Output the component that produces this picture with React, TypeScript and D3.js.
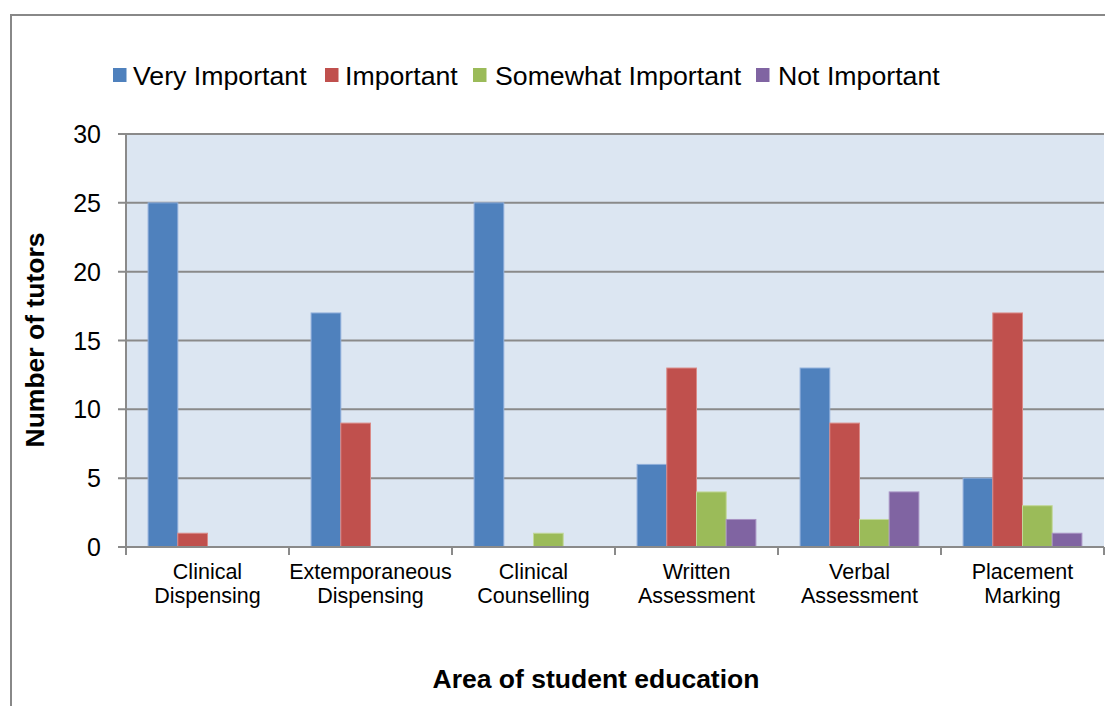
import React from "react";
import * as d3 from "d3";

const categories = [
  ["Clinical", "Dispensing"],
  ["Extemporaneous", "Dispensing"],
  ["Clinical", "Counselling"],
  ["Written", "Assessment"],
  ["Verbal", "Assessment"],
  ["Placement", "Marking"],
];
const seriesNames = ["Very Important", "Important", "Somewhat Important", "Not Important"];
const veryImportant = [25, 17, 25, 6, 13, 5];
const important = [1, 9, 0, 13, 9, 17];
const somewhatImportant = [0, 0, 1, 4, 2, 3];
const notImportant = [0, 0, 0, 2, 4, 1];
const yTicks = [0, 5, 10, 15, 20, 25, 30];

const colors = ["#4F81BD", "#C0504D", "#9BBB59", "#8064A2"];
const strokes = ["#8FAEDA", "#DA8A88", "#C2D89A", "#A893C4"];

export default function App() {
  const W = 1105, H = 706;
  const left = 126, right = 1104, top = 134, bottom = 547;
  const series = [veryImportant, important, somewhatImportant, notImportant];
  const catIdx = categories.map((_, i) => String(i));
  const x = d3.scaleBand<string>().domain(catIdx).range([left, right]).paddingInner(0).paddingOuter(0);
  const bw = x.bandwidth();
  const barW = 29.7;
  const groupW = barW * 4;
  const y = d3.scaleLinear().domain([0, 30]).range([bottom, top]);
  const font = "'Liberation Sans', Arial, sans-serif";

  const legendX = [{ sq: 113, tx: 133 }, { sq: 325, tx: 345 }, { sq: 473, tx: 495 }, { sq: 756, tx: 778 }];

  return (
    <svg width={W} height={H} style={{ position: "absolute", left: 0, top: 0, background: "#fff" }} fontFamily={font}>
      {/* outer border */}
      <line x1={11} y1={15} x2={W} y2={15} stroke="#888" strokeWidth={2} />
      <line x1={11} y1={14} x2={11} y2={H} stroke="#888" strokeWidth={2} />

      {/* plot background */}
      <rect x={left} y={top} width={right - left} height={bottom - top} fill="#DCE6F2" />

      {/* gridlines */}
      {yTicks.map((t) => (
        <line key={"g" + t} x1={left - 8} x2={right} y1={y(t)} y2={y(t)} stroke="#8A8A8A" strokeWidth={2} />
      ))}
      {/* y tick labels */}
      {yTicks.map((t) => (
        <text key={"yt" + t} x={101} y={y(t)} dy="0.36em" textAnchor="end" fontSize={25} fill="#000">
          {t}
        </text>
      ))}

      {/* bars */}
      {categories.map((_, ci) => {
        const x0 = (x(String(ci)) as number) + (bw - groupW) / 2;
        return series.map((s, si) => {
          const v = s[ci];
          if (v <= 0) return null;
          return (
            <rect
              key={`b${ci}-${si}`}
              x={x0 + si * barW}
              y={y(v)}
              width={barW}
              height={y(0) - y(v)}
              fill={colors[si]}
              stroke={strokes[si]}
              strokeWidth={1}
            />
          );
        });
      })}

      {/* axes lines */}
      <line x1={left} x2={left} y1={top} y2={bottom} stroke="#8A8A8A" strokeWidth={2} />
      <line x1={left - 8} x2={right} y1={bottom} y2={bottom} stroke="#8A8A8A" strokeWidth={2} />
      {d3.range(categories.length + 1).map((i) => (
        <line key={"xt" + i} x1={left + i * bw} x2={left + i * bw} y1={bottom} y2={bottom + 8} stroke="#8A8A8A" strokeWidth={2} />
      ))}

      {/* x labels */}
      {categories.map((lines, ci) => {
        const cx = (x(String(ci)) as number) + bw / 2;
        return (
          <text key={"xl" + ci} x={cx} y={579} textAnchor="middle" fontSize={21.5} fill="#000">
            {lines.map((l, li) => (
              <tspan key={li} x={cx} dy={li === 0 ? 0 : 24}>
                {l}
              </tspan>
            ))}
          </text>
        );
      })}

      {/* legend */}
      {seriesNames.map((n, i) => (
        <g key={"lg" + i}>
          <rect x={legendX[i].sq} y={68} width={13.5} height={14} fill={colors[i]} />
          <text x={legendX[i].tx} y={85} fontSize={26.7} fill="#000">
            {n}
          </text>
        </g>
      ))}

      {/* axis titles */}
      <text x={596} y={688} textAnchor="middle" fontSize={26.5} fontWeight="bold" fill="#000">
        Area of student education
      </text>
      <text
        transform={`translate(44,340) rotate(-90)`}
        textAnchor="middle"
        fontSize={26.5}
        fontWeight="bold"
        fill="#000"
      >
        Number of tutors
      </text>
    </svg>
  );
}
